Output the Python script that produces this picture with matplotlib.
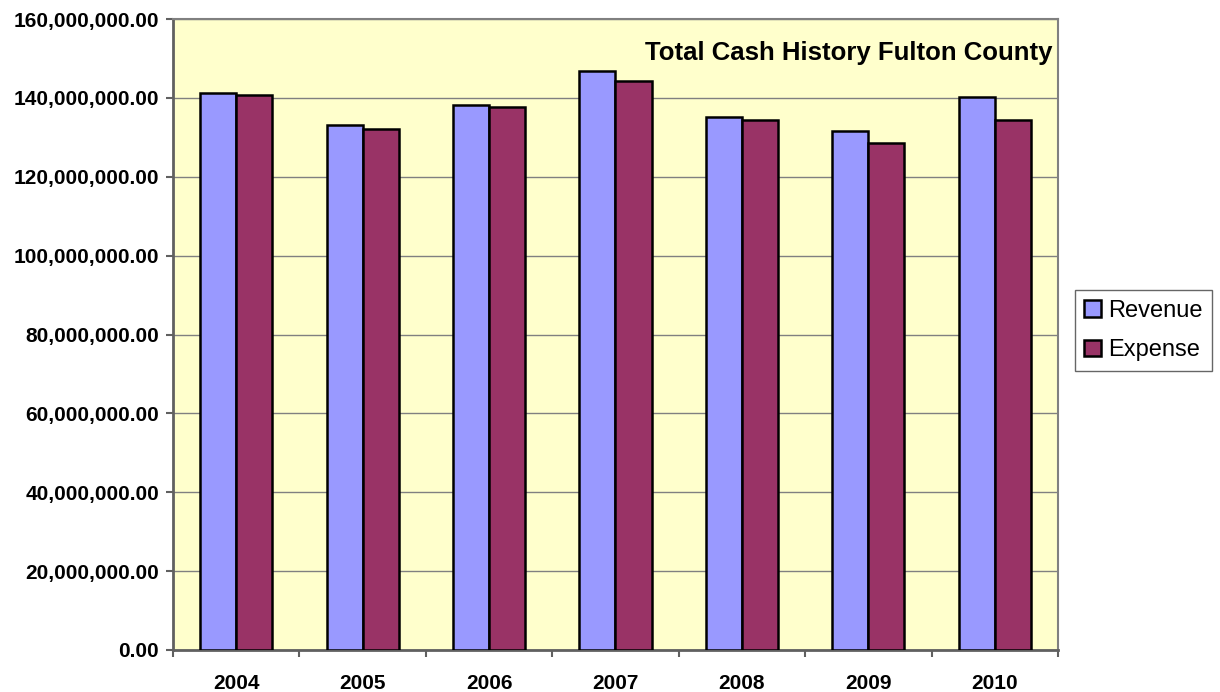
import numpy as np
import matplotlib
matplotlib.use("Agg")
import matplotlib.pyplot as plt
from matplotlib.ticker import FuncFormatter, FixedLocator

plt.rcParams['font.family'] = ['Liberation Sans', 'DejaVu Sans']

# data
years = ['2004', '2005', '2006', '2007', '2008', '2009', '2010']
revenue = [141.3e6, 133.2e6, 138.2e6, 146.8e6, 135.2e6, 131.7e6, 140.3e6]
expense = [140.8e6, 132.2e6, 137.7e6, 144.3e6, 134.3e6, 128.6e6, 134.3e6]

fig = plt.figure(figsize=(12.2, 6.92), dpi=100)
ax = fig.add_axes([0.1418, 0.0607, 0.7254, 0.9118])
ax.set_facecolor('#FFFFCC')

x = np.arange(len(years))
w = 0.285
ax.bar(x - w / 2, revenue, w, color='#9999FF', edgecolor='black', linewidth=1.8,
       label='Revenue', zorder=3)
ax.bar(x + w / 2, expense, w, color='#993366', edgecolor='black', linewidth=1.8,
       label='Expense', zorder=3)

ax.set_xlim(-0.5, len(years) - 0.5)
ax.set_ylim(0, 160e6)
ax.set_yticks(np.arange(0, 160e6 + 1, 20e6))
ax.yaxis.set_major_formatter(FuncFormatter(lambda v, p: '{:,.2f}'.format(v)))
ax.grid(axis='y', color='#808080', linewidth=1, zorder=0)

ax.set_xticks(x)
ax.set_xticklabels(years)
ax.xaxis.set_minor_locator(FixedLocator(np.arange(-0.5, len(years), 1.0)))
ax.tick_params(axis='x', which='major', length=0, pad=17)
ax.tick_params(axis='x', which='minor', length=5, width=1.5, color='#606060')
ax.tick_params(axis='y', length=5, width=1.5, color='#606060', pad=5)
for lbl in ax.get_xticklabels() + ax.get_yticklabels():
    lbl.set_fontsize(15)
    lbl.set_fontweight('bold')

for s in ['left', 'bottom']:
    ax.spines[s].set_color('#606060')
    ax.spines[s].set_linewidth(2)
for s in ['top', 'right']:
    ax.spines[s].set_color('#808080')
    ax.spines[s].set_linewidth(1.5)

ax.text(0.994, 0.946, 'Total Cash History Fulton County', transform=ax.transAxes,
        ha='right', va='center', fontsize=18.5, fontweight='bold')

leg = fig.legend(loc='center left', bbox_to_anchor=(0.881, 0.5224), fontsize=17,
                 frameon=True, fancybox=False, edgecolor='#404040',
                 handlelength=0.7, handleheight=0.7, handletextpad=0.3,
                 labelspacing=0.75, borderpad=0.4, borderaxespad=0)
leg.get_frame().set_linewidth(1)

fig.savefig('out.png', dpi=100)
